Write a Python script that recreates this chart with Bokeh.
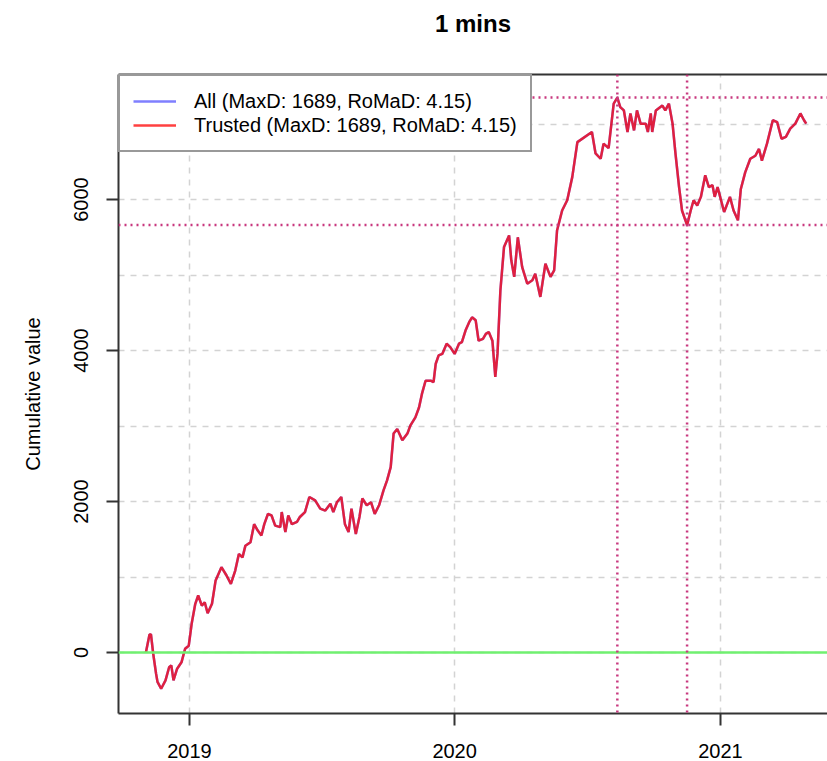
import pandas as pd
from bokeh.plotting import figure
from bokeh.models import (Span, FixedTicker, DatetimeTickFormatter, LinearAxis,
                          Range1d, Legend, LegendItem, CustomJSTickFormatter)
from bokeh.embed import file_html
from bokeh.resources import INLINE

# ---------------- data ----------------
ORIGIN = "2019-01-01"
day_offset = [
    -60, -55, -53, -50, -46, -44, -39, -33, -28, -25, -22, -17, -11, -6, -1,
    3, 8, 12, 17, 21, 25, 31, 36, 44, 51, 57, 63, 68, 73, 77, 84, 89, 94, 99,
    103, 108, 113, 118, 125, 127, 132, 136, 141, 148, 152, 159, 165, 173, 180,
    187, 194, 198, 203, 209, 214, 219, 223, 229, 234, 238, 244, 250, 255, 261,
    267, 272, 277, 281, 286, 293, 300, 304, 311, 316, 320, 325, 332, 336, 339,
    343, 348, 354, 359, 365, 371, 375, 380, 385, 389, 394, 398, 404, 408, 412,
    417, 421, 424, 428, 433, 440, 443, 447, 452, 458, 465, 472, 476, 483, 490,
    497, 502, 506, 513, 520, 527, 534, 554, 559, 566, 570, 577, 584, 589, 593,
    598, 603, 607, 612, 616, 621, 628, 631, 635, 637, 642, 651, 655, 660, 665,
    669, 674, 678, 685, 690, 694, 699, 704, 710, 715, 720, 723, 727, 736, 744,
    749, 755, 759, 765, 772, 779, 784, 788, 795, 803, 809, 815, 821, 827, 834,
    841, 846, 849,
]
cum_all = [
    0, 240, 240, -10, -280, -390, -480, -370, -195, -170, -370, -215, -130, 50, 90,
    380, 645, 755, 620, 665, 520, 645, 955, 1130, 1020, 910, 1085, 1305, 1260, 1415,
    1460, 1700, 1615, 1550, 1700, 1835, 1815, 1680, 1660, 1860, 1595, 1815, 1700,
    1730, 1795, 1860, 2060, 2015, 1905, 1880, 1970, 1860, 1990, 2060, 1700, 1595,
    1905, 1570, 1795, 2040, 1950, 1990, 1835, 1950, 2145, 2280, 2455, 2900, 2960,
    2810, 2900, 3005, 3115, 3245, 3425, 3600, 3600, 3580, 3825, 3935, 3955, 4090,
    4045, 3955, 4090, 4110, 4265, 4375, 4440, 4400, 4130, 4155, 4220, 4245, 4130,
    3650, 3955, 4795, 5370, 5525, 5195, 4975, 5500, 5105, 4885, 4930, 5015, 4710,
    5150, 4975, 5060, 5590, 5855, 5990, 6300, 6760, 6895, 6610, 6540, 6740, 6680,
    7270, 7350, 7225, 7180, 6895, 7140, 6915, 7180, 7005, 7005, 6895, 7140, 6895,
    7180, 7245, 7180, 7270, 7005, 6610, 6165, 5855, 5661, 5855, 5990, 5920, 6035,
    6320, 6165, 6190, 6035, 6165, 5835, 6035, 5855, 5725, 6140, 6360, 6540, 6580,
    6670, 6515, 6740, 7050, 7025, 6805, 6830, 6940, 7005, 7140, 7050, 7005,
]
cum_trusted = list(cum_all)  # identical series (same MaxD / RoMaD)

peak_day, trough_day = 589, 685
peak_value, trough_value = 7350, 5661

year_ticks = ["2019-01-01", "2020-01-01", "2021-01-01"]
y_ticks = [0, 2000, 4000, 6000]
y_grid = [0, 1000, 2000, 3000, 4000, 5000, 6000, 7000]

label_all = "All (MaxD: 1689, RoMaD: 4.15)"
label_trusted = "Trusted (MaxD: 1689, RoMaD: 4.15)"
title_text = "1 mins"
y_label = "Cumulative value"

# ---------------- helpers ----------------
origin = pd.Timestamp(ORIGIN)
dates = origin + pd.to_timedelta(day_offset, unit="D")


def ms(ts):
    return (pd.Timestamp(ts) - pd.Timestamp("1970-01-01")) / pd.Timedelta(milliseconds=1)


def day_ms(d):
    return ms(origin + pd.Timedelta(days=d))


FONT = "Liberation Sans"
GRID = "#d3d3d3"
DOT = "#c8387f"

p = figure(width=827, height=761, x_axis_type="datetime",
           output_backend="svg", toolbar_location=None,
           x_range=Range1d(day_ms(-97.7), day_ms(878.3)),
           y_range=Range1d(-808, 7656),
           min_border_left=118, min_border_right=0,
           min_border_top=74, min_border_bottom=48)
p.outline_line_color = None
p.background_fill_color = "white"
p.border_fill_color = "white"

# title
p.title.text = title_text
p.title.align = "center"
p.title.vertical_align = "bottom"
p.title.text_font = FONT
p.title.text_font_size = "24px"
p.title.text_font_style = "bold"
p.title.text_color = "black"
p.title.standoff = 0

# grids
p.xgrid.ticker = FixedTicker(ticks=[ms(t) for t in year_ticks])
p.ygrid.ticker = FixedTicker(ticks=y_grid)
for g in (p.xgrid, p.ygrid):
    g.grid_line_color = GRID
    g.grid_line_dash = "6 6"
    g.grid_line_width = 1.5

# axes
xa = p.xaxis[0]
xa.ticker = FixedTicker(ticks=[ms(t) for t in year_ticks])
xa.formatter = DatetimeTickFormatter(years="%Y", months="%Y", days="%Y",
                                     hours="%Y", minutes="%Y", seconds="%Y",
                                     milliseconds="%Y", microseconds="%Y")
ya = p.yaxis[0]
ya.ticker = FixedTicker(ticks=y_ticks)
ya.major_label_orientation = "vertical"
ya.axis_label = y_label
ya.axis_label_text_font = FONT
ya.axis_label_text_font_size = "20px"
ya.axis_label_text_font_style = "normal"
ya.axis_label_text_color = "black"
ya.axis_label_standoff = 28
ya.major_label_standoff = 18
xa.major_label_standoff = 18
for ax in (xa, ya):
    ax.axis_line_color = "#333333"
    ax.axis_line_width = 2
    ax.major_tick_line_color = "#333333"
    ax.major_tick_line_width = 2
    ax.major_tick_out = 12
    ax.major_tick_in = 0
    ax.minor_tick_line_color = None
    ax.major_label_text_font = FONT
    ax.major_label_text_font_size = "20px"
    ax.major_label_text_color = "black"

# top border line; an invisible tick gives it extent that spaces the title
top = LinearAxis(ticker=FixedTicker(ticks=[ms(year_ticks[1])]),
                 formatter=CustomJSTickFormatter(code="return ''"),
                 axis_line_color="#333333", axis_line_width=2,
                 major_tick_line_color=None, major_tick_out=38, major_tick_in=0,
                 major_label_standoff=0, major_label_text_font_size="0px",
                 minor_tick_line_color=None)
p.add_layout(top, "above")

# zero line
p.add_layout(Span(location=0, dimension="width", line_color="#70f070",
                  line_width=2.5))

# drawdown markers
for loc in (peak_value, trough_value):
    p.add_layout(Span(location=loc, dimension="width", line_color=DOT,
                      line_width=2.5, line_dash="2 4"))
for d in (peak_day, trough_day):
    p.add_layout(Span(location=day_ms(d), dimension="height", line_color=DOT,
                      line_width=2.5, line_dash="2 4"))

# series
r_all = p.line(dates, cum_all, line_color="blue", line_alpha=0.5, line_width=2.5)
r_tr = p.line(dates, cum_trusted, line_color="red", line_alpha=0.75, line_width=2.5)

legend = Legend(items=[LegendItem(label=label_all, renderers=[r_all]),
                       LegendItem(label=label_trusted, renderers=[r_tr])],
                location="top_left")
legend.margin = 0
legend.padding = 13
legend.spacing = 0
legend.label_height = 24
legend.glyph_height = 24
legend.glyph_width = 43
legend.label_standoff = 18
legend.label_text_font = FONT
legend.label_text_font_size = "20px"
legend.label_text_color = "black"
legend.border_line_color = "#333333"
legend.border_line_width = 2
legend.background_fill_color = "white"
legend.background_fill_alpha = 1.0
p.add_layout(legend, "center")

open("out.html", "w").write(file_html(p, INLINE))
